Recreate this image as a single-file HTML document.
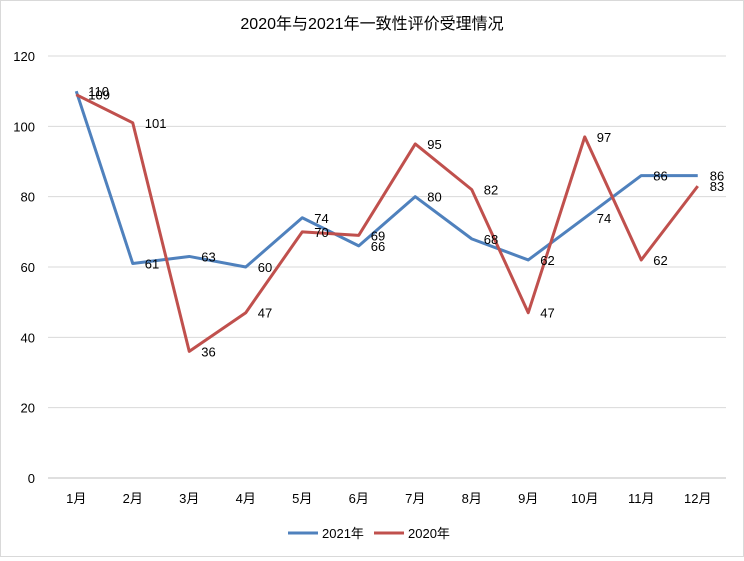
<!DOCTYPE html>
<html><head><meta charset="utf-8"><style>
html,body{margin:0;padding:0;background:#fff}
#c{position:relative;width:742px;height:555px;border:1px solid #d9d9d9;font-family:"Liberation Sans","Noto Sans CJK SC",sans-serif}
</style></head><body>
<div id="c">
<svg id="s" width="742" height="555" xmlns="http://www.w3.org/2000/svg" font-family="Liberation Sans, Noto Sans CJK SC, sans-serif">
<text x="371" y="28" text-anchor="middle" font-size="16" fill="#000">2020年与2021年一致性评价受理情况</text>
<g id="grid"></g><g id="axes"></g><g id="lines"></g><g id="labels"></g>
<g>
<line x1="287" y1="532" x2="317" y2="532" stroke="#4f81bd" stroke-width="3"/>
<text x="321" y="537" font-size="13">2021年</text>
<line x1="373" y1="532" x2="403" y2="532" stroke="#c0504d" stroke-width="3"/>
<text x="407" y="537" font-size="13">2020年</text>
</g>
</svg></div>
<script>
const categories=["1月","2月","3月","4月","5月","6月","7月","8月","9月","10月","11月","12月"];
const values2021=[110,61,63,60,74,66,80,68,62,74,86,86];
const values2020=[109,101,36,47,70,69,95,82,47,97,62,83];
const yTicks=[0,20,40,60,80,100,120];
const NS="http://www.w3.org/2000/svg";
const L=47,R=725,T=55,B=477;
const bw=(R-L)/categories.length;
const x=i=>L+bw*(i+0.5);
const y=v=>B-(v/120)*(B-T);
function mk(tag,attrs,parent,txt){const e=document.createElementNS(NS,tag);for(const k in attrs)e.setAttribute(k,attrs[k]);if(txt!==undefined)e.textContent=txt;document.getElementById(parent).appendChild(e);return e;}
yTicks.forEach(t=>{
 const g=mk('line',{x1:L,x2:R,y1:y(t),y2:y(t),stroke:t===0?'#bfbfbf':'#d9d9d9','stroke-width':1},'grid');
 
 
 const tl=mk('text',{x:34,y:y(t)+5,'text-anchor':'end','font-size':13,fill:'#000'},'axes',String(t));
 
 
});
categories.forEach((c,i)=>{
 const tl=mk('text',{x:x(i),y:502,'text-anchor':'middle','font-size':13,fill:'#000'},'axes',c);
 
 
});
function series(vals,color,name){
 const p=mk('polyline',{points:vals.map((v,i)=>x(i)+','+y(v)).join(' '),fill:'none',stroke:color,'stroke-width':3,'stroke-linejoin':'round'},'lines');
 
 
 vals.forEach((v,i)=>{
  const t=mk('text',{x:x(i)+12,y:y(v)+5,'font-size':13,fill:'#000'},'labels',String(v));
  
  
 });
}
series(values2021,'#4f81bd','2021');
series(values2020,'#c0504d','2020');
</script>
</body></html>
